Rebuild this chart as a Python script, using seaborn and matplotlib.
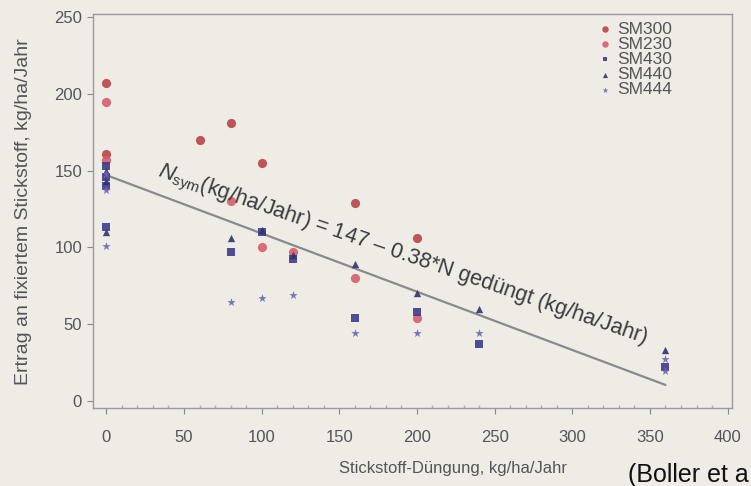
import numpy as np
import pandas as pd
import matplotlib
matplotlib.use("Agg")
import matplotlib.pyplot as plt
import seaborn as sns

# ---- data ----
sm300_x = [0, 0, 60, 80, 100, 160, 200]
sm300_y = [207, 161, 170, 181, 155, 129, 106]
sm230_x = [0, 0, 80, 100, 120, 160, 200]
sm230_y = [195, 157, 130, 100, 97, 80, 54]
sm430_x = [0, 0, 0, 0, 80, 100, 120, 160, 200, 240, 360]
sm430_y = [153, 146, 140, 113, 97, 110, 92, 54, 58, 37, 22]
sm440_x = [0, 0, 0, 80, 100, 120, 160, 200, 240, 360]
sm440_y = [150, 143, 110, 106, 111, 95, 89, 70, 60, 33]
sm444_x = [0, 0, 0, 80, 100, 120, 160, 200, 240, 360, 360]
sm444_y = [148, 137, 101, 64, 67, 69, 44, 44, 44, 27, 19]
series_names = ["SM300", "SM230", "SM430", "SM440", "SM444"]

intercept = 147
slope = -0.38
fit_x = [0, 360]

x_ticks = [0, 50, 100, 150, 200, 250, 300, 350, 400]
y_ticks = [0, 50, 100, 150, 200, 250]

# ---- build table ----
frames = []
for name, xs, ys in zip(series_names,
                        [sm300_x, sm230_x, sm430_x, sm440_x, sm444_x],
                        [sm300_y, sm230_y, sm430_y, sm440_y, sm444_y]):
    frames.append(pd.DataFrame({"N": xs, "Nsym": ys, "Sorte": name}))
df = pd.concat(frames, ignore_index=True)

fit_df = pd.DataFrame({"N": fit_x})
fit_df["Nsym"] = intercept + slope * fit_df["N"]

bg = "#efece6"
txt = "#555555"

sns.set_theme(style="ticks")
plt.rcParams["font.family"] = ["Liberation Sans", "DejaVu Sans"]
plt.rcParams["mathtext.fontset"] = "custom"
plt.rcParams["mathtext.rm"] = "Liberation Sans"
plt.rcParams["mathtext.it"] = "Liberation Sans:italic"

fig = plt.figure(figsize=(7.51, 4.86), dpi=100, facecolor=bg)
ax = fig.add_axes([0.124, 0.160, 0.851, 0.811])
ax.set_facecolor(bg)

palette = {"SM300": "#b9464a", "SM230": "#d65e6c", "SM430": "#3c3c8c",
           "SM440": "#33336e", "SM444": "#6a68b0"}
markers = {"SM300": "o", "SM230": "o", "SM430": "s", "SM440": "^", "SM444": "*"}
sizes = {"SM300": 44, "SM230": 44, "SM430": 26, "SM440": 28, "SM444": 40}

sns.lineplot(data=fit_df, x="N", y="Nsym", ax=ax, color="#8a8a8a", lw=1.6,
             legend=False)

for name in series_names:
    sub = df[df["Sorte"] == name]
    sns.scatterplot(data=sub, x="N", y="Nsym", ax=ax, color=palette[name],
                    marker=markers[name], s=sizes[name], linewidth=0,
                    alpha=0.9, label=name, zorder=3)

ax.set_xlim(-8.5, 403)
ax.set_ylim(-5, 252)
ax.set_xticks(x_ticks)
ax.set_yticks(y_ticks)
ax.set_xticks(np.arange(0, 401, 10), minor=True)
ax.tick_params(axis="both", which="major", labelsize=12, colors="#888888",
               labelcolor=txt, length=4, width=0.8)
ax.tick_params(axis="x", which="major", pad=12)
ax.tick_params(axis="y", which="major", pad=4)
ax.tick_params(axis="x", which="minor", direction="in", length=2.5,
               color="#aaaaaa")
for s in ax.spines.values():
    s.set_color("#9a9a9a")
    s.set_linewidth(1.0)

ax.set_xlabel("Stickstoff-Düngung, kg/ha/Jahr", fontsize=12, color=txt)
ax.xaxis.set_label_coords(0.563, -0.135)
ax.set_ylabel("Ertrag an fixiertem Stickstoff, kg/ha/Jahr", fontsize=14,
              color=txt)
ax.yaxis.set_label_coords(-0.095, 0.5)

ax.text(32.5, 146.5, r"$N_{\mathrm{sym}}$(kg/ha/Jahr) = 147 – 0.38*N gedüngt (kg/ha/Jahr)",
        rotation=-19.0, rotation_mode="anchor", ha="left", va="baseline",
        fontsize=15.6, color="#3a3a3a")

leg = ax.legend(loc="upper right", bbox_to_anchor=(0.912, 0.99), frameon=False,
                fontsize=12.5, handletextpad=0.2, labelspacing=0.0,
                markerscale=0.7, borderaxespad=0.0, borderpad=0.2,
                handlelength=1.0)
for t in leg.get_texts():
    t.set_color(txt)

fig.text(0.836, 0.008, "(Boller et a", fontsize=18, color="#111111",
         ha="left", va="baseline")

fig.savefig("out.png", dpi=100, facecolor=bg)
